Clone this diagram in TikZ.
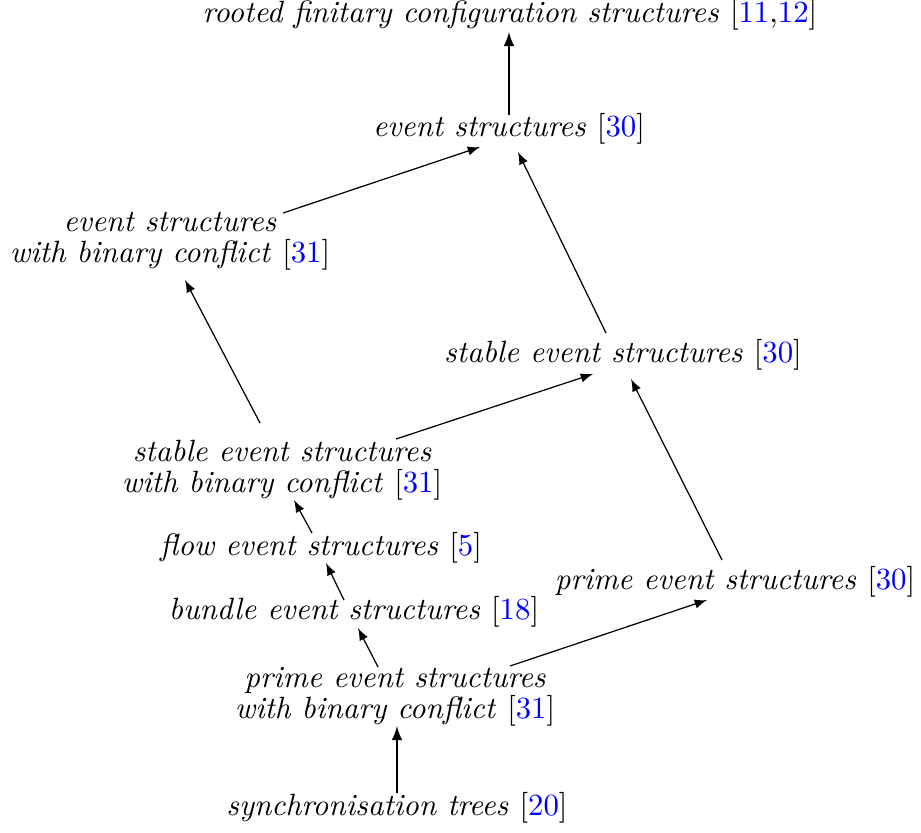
\documentclass[tikz,border=0pt]{standalone}
\usepackage{xcolor}
\usepackage{tikz}
\usetikzlibrary{arrows}
\usetikzlibrary{calc}

\newcommand{\rf}[1]{\textcolor{blue}{#1}}
\newcommand{\refs}[1]{\textup{[#1]}}

\begin{document}
\begin{tikzpicture}[x=0.3247pt,y=-0.3247pt,
  lbl/.style={font=\itshape,align=center,inner sep=2pt},
  arr/.style={black,line width=0.4pt,-latex},
  varr/.style={arr,line width=0.6pt}]
\useasboundingbox (0,0) rectangle (921,832);
%% nodes, top to bottom
\node[lbl] (rfcs) at (510,15) {rooted finitary configuration structures \refs{\rf{11},\rf{12}}};
\node[lbl] (es) at (509,129) {event structures \refs{\rf{30}}};
\node[lbl] (esb) at (170,241) {event structures\\[-2pt] with binary conflict \refs{\rf{31}}};
\node[lbl] (ses) at (623,355) {stable event structures \refs{\rf{30}}};
\node[lbl] (sesb) at (282,470) {stable event structures\\[-2pt] with binary conflict \refs{\rf{31}}};
\node[lbl] (fes) at (321,548) {flow event structures \refs{\rf{5}}};
\node[lbl] (pes) at (735,582) {prime event structures \refs{\rf{30}}};
\node[lbl] (bes) at (354,612) {bundle event structures \refs{\rf{18}}};
\node[lbl] (pesb) at (395,697) {prime event structures\\[-2pt] with binary conflict \refs{\rf{31}}};
\node[lbl] (st) at (397,808) {synchronisation trees \refs{\rf{20}}};
%% arrows (ends offset from the node centres)
\draw[varr] ([shift={(0,-14)}]es.center) -- ([shift={(-1,17)}]rfcs.center);
\draw[arr] ([shift={(113,-28)}]esb.center) -- ([shift={(-29,18)}]es.center);
\draw[arr] ([shift={(-17,-22)}]ses.center) -- ([shift={(9,23)}]es.center);
\draw[arr] ([shift={(-22,-47)}]sesb.center) -- ([shift={(15,39)}]esb.center);
\draw[arr] ([shift={(114,-31)}]sesb.center) -- ([shift={(-30,19)}]ses.center);
\draw[arr] ([shift={(-9,-15)}]fes.center) -- ([shift={(12,30)}]sesb.center);
\draw[arr] ([shift={(-10,-12)}]bes.center) -- ([shift={(5,15)}]fes.center);
\draw[arr] ([shift={(-17,-30)}]pesb.center) -- ([shift={(4,16)}]bes.center);
\draw[arr] ([shift={(115,-31)}]pesb.center) -- ([shift={(-28,18)}]pes.center);
\draw[arr] ([shift={(-13,-22)}]pes.center) -- ([shift={(8,24)}]ses.center);
\draw[varr] ([shift={(0,-15)}]st.center) -- ([shift={(2,29)}]pesb.center);
\end{tikzpicture}
\end{document}
